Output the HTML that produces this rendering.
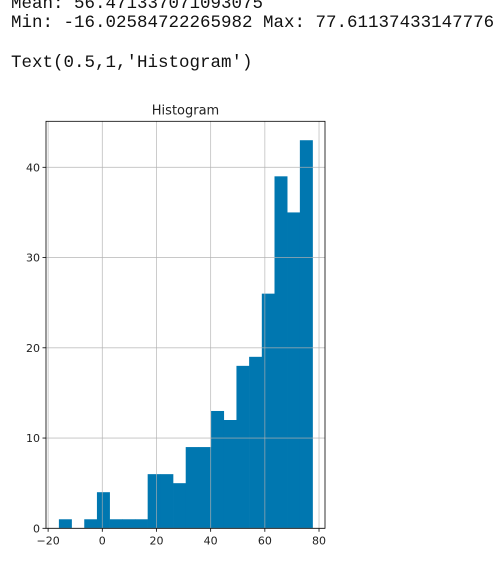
<!DOCTYPE html>
<html><head><meta charset="utf-8"><style>
body{margin:0;background:#fff;width:503px;height:564px;overflow:hidden;position:relative}
pre{margin:0;position:absolute;left:11px;font-family:"Liberation Mono",monospace;font-size:17.5px;color:#111;line-height:19px}
</style></head><body>
<pre style="top:-5px">Mean: 56.471337071093075
Min: -16.02584722265982 Max: 77.61137433147776</pre>
<pre style="top:54px">Text(0.5,1,'Histogram')</pre>
<svg id="chart" width="503" height="564" style="position:absolute;left:0;top:0" font-family="DejaVu Sans, Liberation Sans, sans-serif"></svg>
<script>
const binCounts=[1,0,1,4,1,1,1,6,6,5,9,9,13,12,18,19,26,39,35,43];
const dataMin=-16.02584722265982, dataMax=77.61137433147776;
const xTicks=[-20,0,20,40,60,80];
const yTicks=[0,10,20,30,40];
const svg=document.getElementById('chart');
const NS='http://www.w3.org/2000/svg';
const L=46,R=325,T=121.3,B=528.3;
const xs=v=>102.3+v*2.709;
const ys=v=>B-v*9.025;
function mk(t,a){const e=document.createElementNS(NS,t);for(const k in a)e.setAttribute(k,a[k]);svg.appendChild(e);return e;}
const w=(dataMax-dataMin)/binCounts.length;
binCounts.forEach((c,i)=>{
  const x0=xs(dataMin+i*w),x1=xs(dataMin+(i+1)*w);
  const r=mk('rect',{x:x0,y:ys(c),width:x1-x0+0.3,height:B-ys(c),fill:'#0077b0'});
  
  
});
xTicks.forEach(v=>{
  const g=mk('line',{x1:xs(v),x2:xs(v),y1:T,y2:B,stroke:'#b0b0b0','stroke-width':0.8,'stroke-opacity':0.8});
  
  
  mk('line',{x1:xs(v),x2:xs(v),y1:B,y2:B+3.5,stroke:'#000','stroke-width':0.8});
  const t=mk('text',{x:xs(v),y:B+16,'font-size':11,'text-anchor':'middle',fill:'#222'});
  t.textContent=v<0?'\u2212'+(-v):v;
  
  
});
yTicks.forEach(v=>{
  const g=mk('line',{x1:L,x2:R,y1:ys(v),y2:ys(v),stroke:'#b0b0b0','stroke-width':0.8,'stroke-opacity':0.8});
  
  
  mk('line',{x1:L-3.5,x2:L,y1:ys(v),y2:ys(v),stroke:'#000','stroke-width':0.8});
  const t=mk('text',{x:L-6,y:ys(v)+4,'font-size':11,'text-anchor':'end',fill:'#222'});
  t.textContent=v;
  
  
});
const f=mk('rect',{x:L,y:T,width:R-L,height:B-T,fill:'none',stroke:'#000','stroke-width':0.8});


const ti=mk('text',{x:(L+R)/2,y:T-7,'font-size':13,'text-anchor':'middle',fill:'#222'});
ti.textContent='Histogram';


</script>
</body></html>
